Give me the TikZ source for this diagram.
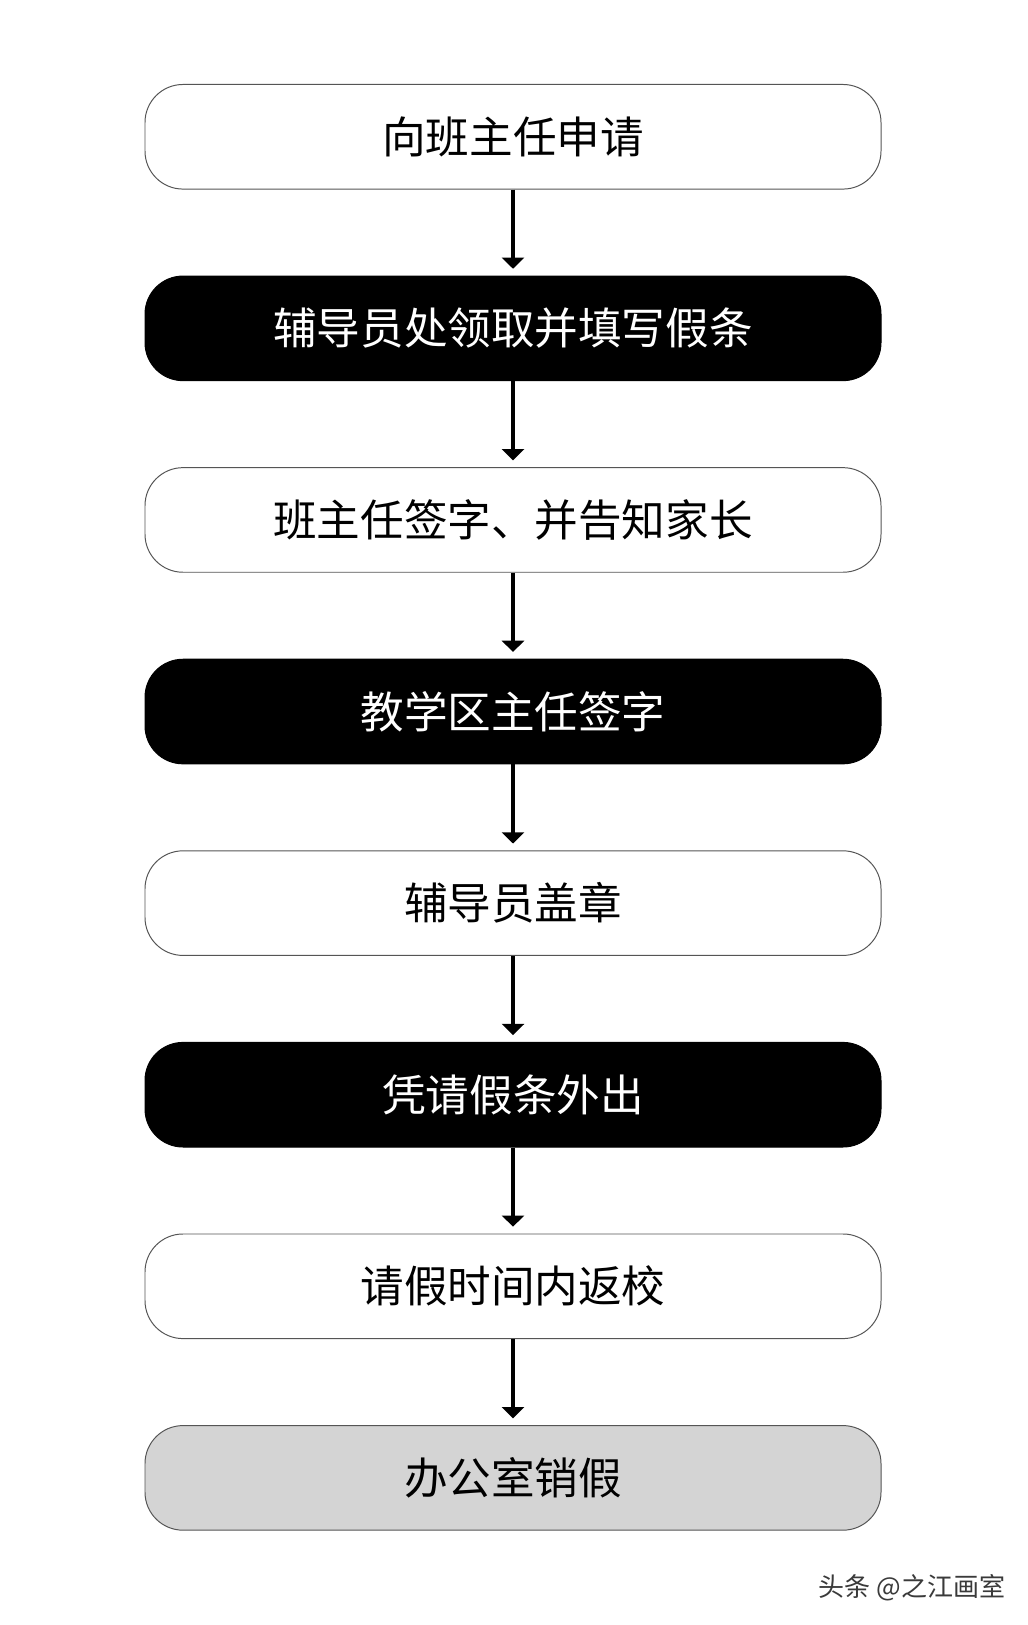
\documentclass[tikz,border=0pt]{standalone}
\usepackage{fontspec}
\newfontfamily\cjk{Noto Sans CJK SC}
\usepackage{xcolor}
\definecolor{boxborder}{HTML}{555555}
\definecolor{lastfill}{HTML}{D4D4D4}
\definecolor{marktext}{HTML}{3A3A3A}
\usetikzlibrary{positioning, arrows.meta}

\tikzset{
  stepbox/.style={draw=boxborder, line width=0.7pt, rounded corners=0.95cm,
    minimum width=18.4cm, minimum height=2.615cm, inner sep=0pt,
    font=\cjk\fontsize{31}{36}\selectfont},
  plainbox/.style={stepbox, fill=white, text=black},
  darkbox/.style={stepbox, fill=black, draw=black, text=white},
  greybox/.style={stepbox, fill=lastfill, text=black},
  flow/.style={line width=2.3pt, -{Triangle[width=0.55cm,length=0.28cm]}, shorten >=0.17cm}
}

\begin{document}
\begin{tikzpicture}
      % Page frame
      \useasboundingbox[fill=white] (0,0) rectangle (25.7,40.625);

      % Steps
      \node[plainbox] (apply) at (12.825,37.205) {向班主任申请};
      \node[darkbox, below=2.15cm of apply] (fill) {辅导员处领取并填写假条};
      \node[plainbox, below=2.15cm of fill] (sign) {班主任签字、并告知家长};
      \node[darkbox, below=2.15cm of sign] (dean) {教学区主任签字};
      \node[plainbox, below=2.15cm of dean] (stamp) {辅导员盖章};
      \node[darkbox, below=2.15cm of stamp] (leave) {凭请假条外出};
      \node[plainbox, below=2.15cm of leave] (back) {请假时间内返校};
      \node[greybox, below=2.15cm of back] (cancel) {办公室销假};

      % Arrows
      \draw[flow] (apply) -- (fill);
      \draw[flow] (fill) -- (sign);
      \draw[flow] (sign) -- (dean);
      \draw[flow] (dean) -- (stamp);
      \draw[flow] (stamp) -- (leave);
      \draw[flow] (leave) -- (back);
      \draw[flow] (back) -- (cancel);

      % Watermark
      \node[text=marktext, font=\cjk\fontsize{18.5}{22}\selectfont] (mark) at (22.8,0.925) {头条 @之江画室};
\end{tikzpicture}
\end{document}
